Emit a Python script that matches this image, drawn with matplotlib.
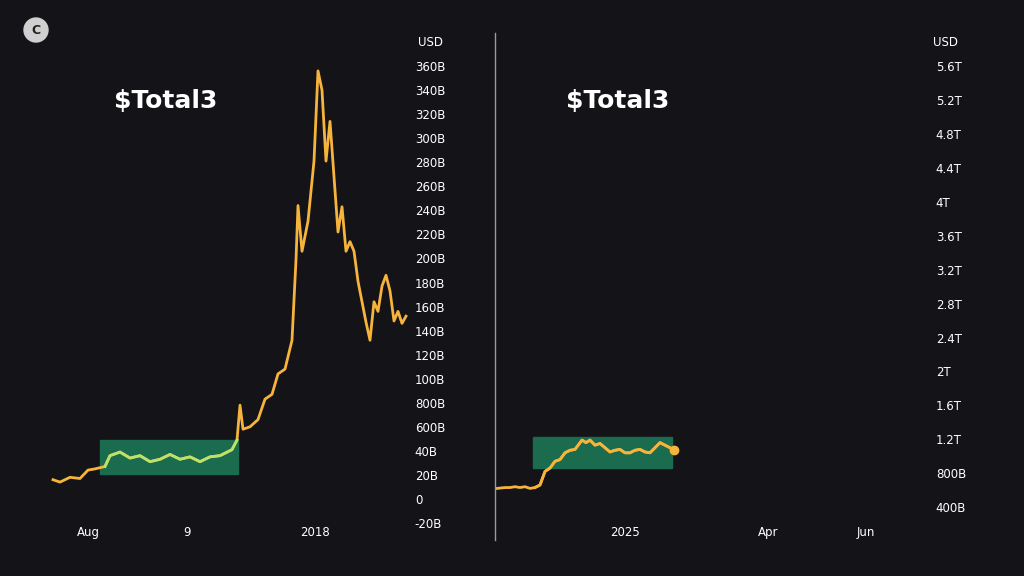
import matplotlib.pyplot as plt
import matplotlib.patches as mpatches

BG = "#141318"
ORANGE = "#F6B43C"
LIME = "#B8E46C"
BOX = "#1B6B4F"

# left chart (2017 cycle): time index, value in billions
left_t = [53, 60, 70, 80, 88, 95, 105, 110, 120, 130, 140, 150, 160, 170, 180, 190, 200, 210,
          220, 232, 237, 240, 243, 250, 258, 265, 272, 278, 285, 292, 296, 298, 302, 308, 314,
          318, 322, 326, 330, 334, 338, 342, 346, 350, 354, 358, 362, 366, 370, 374, 378, 382,
          386, 390, 394, 398, 402, 406]
left_v = [16, 14, 18, 17, 24, 25, 27, 36, 39, 34, 36, 31, 33, 37, 33, 35, 31, 35,
          36, 41, 49, 78, 58, 60, 66, 83, 87, 104, 108, 132, 199, 244, 206, 231, 281,
          356, 340, 281, 314, 268, 222, 243, 206, 214, 206, 181, 164, 147, 132, 164, 156, 177,
          186, 173, 148, 156, 146, 152]
left_box_t = (100, 238)
left_box_v = (21, 49)
left_ticks = [360, 340, 320, 300, 280, 260, 240, 220, 200, 180, 160, 140, 120, 100, 80, 60, 40, 20, 0, -20]
left_labels = ["360B", "340B", "320B", "300B", "280B", "260B", "240B", "220B", "200B", "180B",
               "160B", "140B", "120B", "100B", "800B", "600B", "40B", "20B", "0", "-20B"]
left_xticks = [88, 187, 315]
left_xlabels = ["Aug", "9", "2018"]

# right chart (current cycle): value in trillions
right_t = [497, 505, 510, 515, 520, 525, 530, 535, 540, 545, 550, 555, 560, 565, 570, 575, 582,
           586, 590, 595, 600, 605, 610, 615, 620, 625, 630, 635, 640, 645, 650, 655, 660, 665,
           670, 674]
right_v = [0.62, 0.63, 0.63, 0.64, 0.63, 0.64, 0.62, 0.63, 0.66, 0.82, 0.86, 0.94, 0.96, 1.04,
           1.07, 1.08, 1.19, 1.16, 1.19, 1.13, 1.15, 1.10, 1.05, 1.07, 1.08, 1.04, 1.04, 1.07,
           1.08, 1.05, 1.04, 1.10, 1.16, 1.13, 1.10, 1.07]
right_box_t = (533, 672)
right_box_v = (0.86, 1.23)
right_ticks = [5.6, 5.2, 4.8, 4.4, 4.0, 3.6, 3.2, 2.8, 2.4, 2.0, 1.6, 1.2, 0.8, 0.4]
right_labels = ["5.6T", "5.2T", "4.8T", "4.4T", "4T", "3.6T", "3.2T", "2.8T", "2.4T", "2T",
                "1.6T", "1.2T", "800B", "400B"]
right_xticks = [625, 768, 866]
right_xlabels = ["2025", "Apr", "Jun"]

fig = plt.figure(figsize=(10.24, 5.76), dpi=100, facecolor=BG)
W, H = 1024, 576


def panel(x0, x1, ylo, yhi):
    # pixel-based placement: axes spans y pixels 30..545
    ax = fig.add_axes([x0 / W, 1 - 545 / H, (x1 - x0) / W, 515 / H])
    ax.set_facecolor(BG)
    ax.set_xlim(x0, x1)
    ax.set_ylim(ylo, yhi)
    for s in ax.spines.values():
        s.set_visible(False)
    ax.yaxis.tick_right()
    ax.tick_params(colors="white", length=0, labelsize=8.5)
    ax.tick_params(axis="x", pad=-14)
    return ax


def draw(ax, t, v, box_t, box_v, dot=False):
    ax.add_patch(mpatches.Rectangle((box_t[0], box_v[0]), box_t[1] - box_t[0], box_v[1] - box_v[0],
                                    color=BOX, zorder=1))
    ax.plot(t, v, color=ORANGE, lw=2, zorder=2)
    it = [a for a in t if box_t[0] <= a <= box_t[1]]
    iv = [b for a, b in zip(t, v) if box_t[0] <= a <= box_t[1]]
    if dot:
        ax.plot(it, iv, color=ORANGE, lw=2, zorder=3)
        ax.plot(t[-1], v[-1], "o", color=ORANGE, ms=6, zorder=4)
    else:
        ax.plot(it, iv, color=LIME, lw=2, zorder=3)


axl = panel(40, 410, -38.3, 390)
draw(axl, left_t, left_v, left_box_t, left_box_v)
axl.set_yticks(left_ticks, left_labels)
axl.set_xticks(left_xticks, left_xlabels)

axr = panel(495, 915, -0.048, 6.03)
draw(axr, right_t, right_v, right_box_t, right_box_v, dot=True)
axr.set_yticks(right_ticks, right_labels)
axr.set_xticks(right_xticks, right_xlabels)
axr.tick_params(axis="y", pad=15)

fig.add_artist(plt.Line2D([495 / W, 495 / W], [1 - 33 / H, 1 - 540 / H], color="#9a9a9a", lw=1))
fig.text(418 / W, 1 - 42 / H, "USD", color="white", fontsize=8.5, va="center")
fig.text(933 / W, 1 - 43 / H, "USD", color="white", fontsize=8.5, va="center")
fig.text(114 / W, 1 - 101 / H, "$Total3", color="white", fontsize=18, fontweight="bold", va="center")
fig.text(566 / W, 1 - 101 / H, "$Total3", color="white", fontsize=18, fontweight="bold", va="center")
fig.add_artist(mpatches.Ellipse((36 / W, 1 - 30 / H), 24 / W, 24 / H, color="#d0d0d0",
                                transform=fig.transFigure))
fig.text(36 / W, 1 - 30 / H, "C", color="#222", fontsize=9, fontweight="bold", ha="center", va="center")

fig.savefig("out.png", dpi=100, facecolor=BG)
